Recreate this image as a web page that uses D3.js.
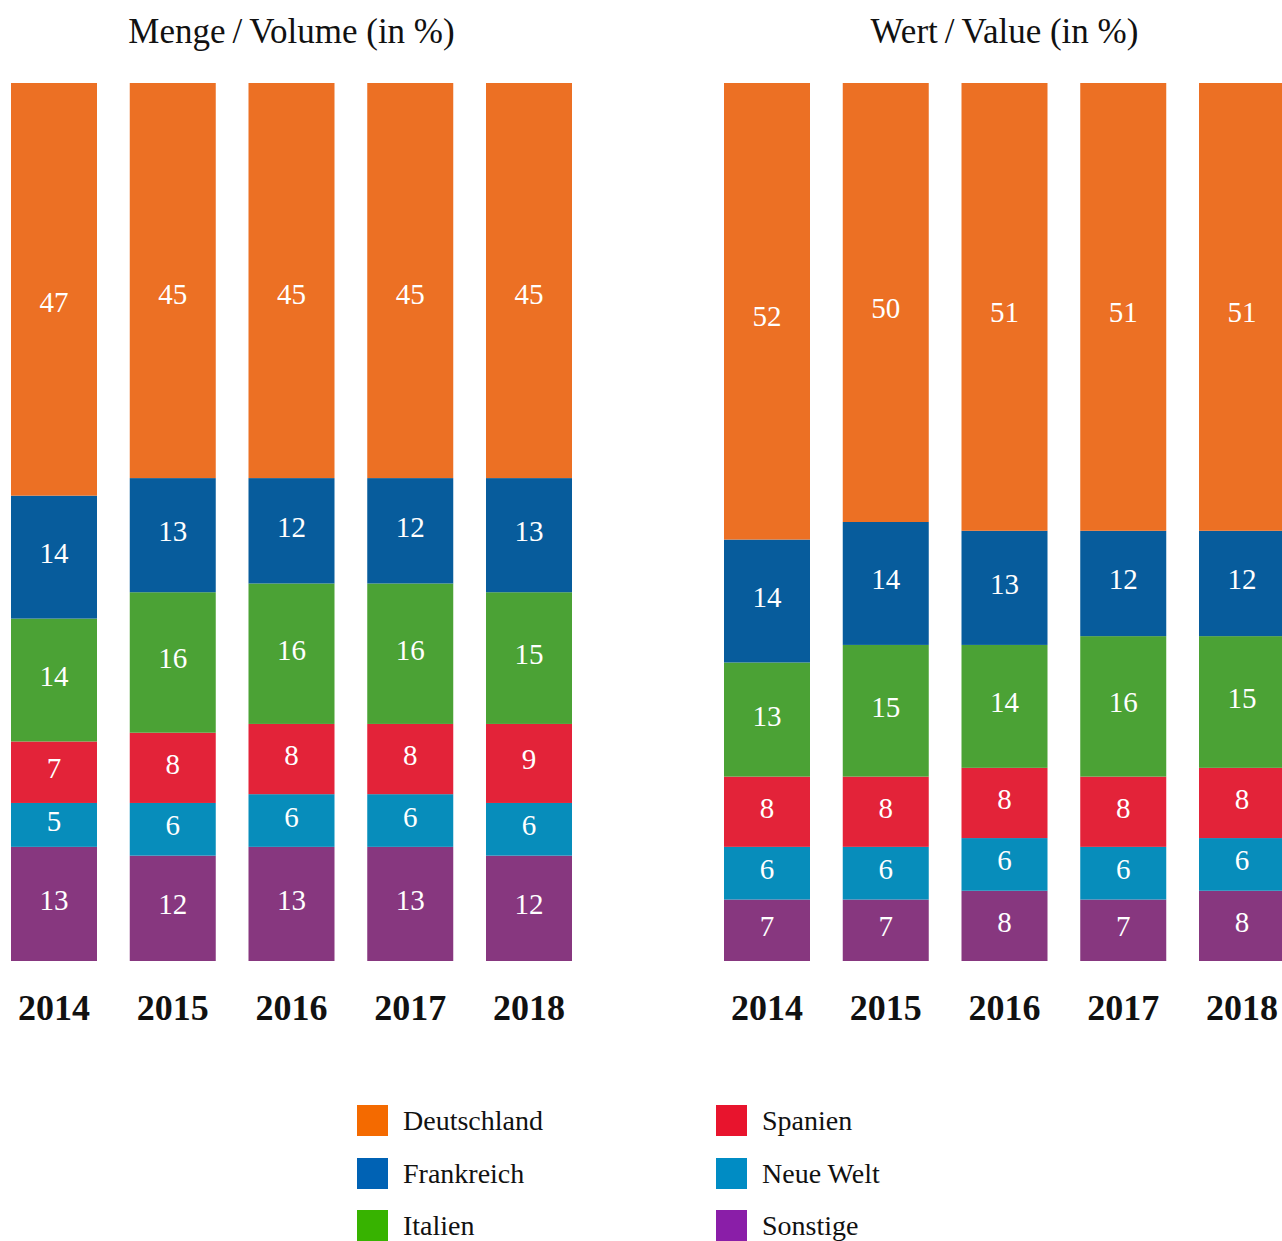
<!DOCTYPE html>
<html><head><meta charset="utf-8">
<script src="https://cdn.jsdelivr.net/npm/d3@7"></script>
<style>body{margin:0;background:#fff}svg{display:block}</style>
</head><body>
<svg id="c" width="1282" height="1241"></svg>
<script>
const years = ["2014","2015","2016","2017","2018"];
const seriesNames = ["Sonstige","Neue Welt","Spanien","Italien","Frankreich","Deutschland"];
// Volume (in %), per year, bottom to top
const volSonstige    = [13,12,13,13,12];
const volNeueWelt    = [5,6,6,6,6];
const volSpanien     = [7,8,8,8,9];
const volItalien     = [14,16,16,16,15];
const volFrankreich  = [14,13,12,12,13];
const volDeutschland = [47,45,45,45,45];
// Value (in %)
const valSonstige    = [7,7,8,7,8];
const valNeueWelt    = [6,6,6,6,6];
const valSpanien     = [8,8,8,8,8];
const valItalien     = [13,15,14,16,15];
const valFrankreich  = [14,14,13,12,12];
const valDeutschland = [52,50,51,51,51];

const barColors = {"Deutschland":"#ec7024","Frankreich":"#075c9c","Italien":"#4ba235","Spanien":"#e32339","Neue Welt":"#078dbb","Sonstige":"#87377f"};
const legendColors = {"Deutschland":"#f46a00","Frankreich":"#0062b4","Italien":"#37b300","Spanien":"#e8142d","Neue Welt":"#008cc4","Sonstige":"#8a1ea8"};
const legendOrder = [["Deutschland","Frankreich","Italien"],["Spanien","Neue Welt","Sonstige"]];

const font = "'Liberation Serif','DejaVu Serif',serif";
const svg = d3.select("#c");

function table(arrs){
  return years.map((y,i)=>{const o={year:y}; seriesNames.forEach((s,k)=>o[s]=arrs[k][i]); return o;});
}
const panels = [
  {title:"Menge\u2009/\u2009Volume (in %)", range:[11,572], topShift:17, data:table([volSonstige,volNeueWelt,volSpanien,volItalien,volFrankreich,volDeutschland])},
  {title:"Wert\u2009/\u2009Value (in %)", range:[724,1285], topShift:9, data:table([valSonstige,valNeueWelt,valSpanien,valItalien,valFrankreich,valDeutschland])}
];
const y = d3.scaleLinear().domain([0,100]).range([961,83]);
const stack = d3.stack().keys(seriesNames);

panels.forEach(p=>{
  const x = d3.scaleBand().domain(years).range(p.range).paddingInner(0.2758).paddingOuter(0);
  const g = svg.append("g");
  g.append("text").attr("x",(p.range[0]+p.range[1])/2).attr("y",43)
    .attr("text-anchor","middle").attr("font-family",font).attr("font-size",35).attr("fill","#111").text(p.title);
  const layers = stack(p.data);
  layers.forEach(layer=>{
    const lg = g.append("g");
    lg.selectAll("rect").data(layer).join("rect")
      .attr("x",d=>x(d.data.year)).attr("width",x.bandwidth())
      .attr("y",d=>y(d[1])).attr("height",d=>y(d[0])-y(d[1]))
      .attr("fill",barColors[layer.key]);
    lg.selectAll("text").data(layer).join("text")
      .attr("x",d=>x(d.data.year)+x.bandwidth()/2)
      .attr("y",d=>(y(d[0])+y(d[1]))/2 + 6 + (layer.key==="Deutschland"?p.topShift:0))
      .attr("text-anchor","middle").attr("font-family",font).attr("font-size",29)
      .attr("fill","#fff").text(d=>d[1]-d[0]);
  });
  const ax = g.append("g").attr("transform","translate(0,961)")
    .call(d3.axisBottom(x).tickSize(0).tickPadding(0));
  ax.select(".domain").remove();
  ax.selectAll("text").attr("y",59).attr("dy",0).attr("font-family",font).attr("font-size",36)
    .attr("font-weight","bold").attr("fill","#111");
});

const lgx = [357,716], lgy = [1105,1158,1210];
legendOrder.forEach((col,ci)=>col.forEach((name,ri)=>{
  svg.append("rect").attr("x",lgx[ci]).attr("y",lgy[ri]).attr("width",31).attr("height",31).attr("fill",legendColors[name]);
  svg.append("text").attr("x",lgx[ci]+46).attr("y",lgy[ri]+25).attr("font-family",font).attr("font-size",28)
    .attr("fill","#111").text(name);
}));
</script>
</body></html>
